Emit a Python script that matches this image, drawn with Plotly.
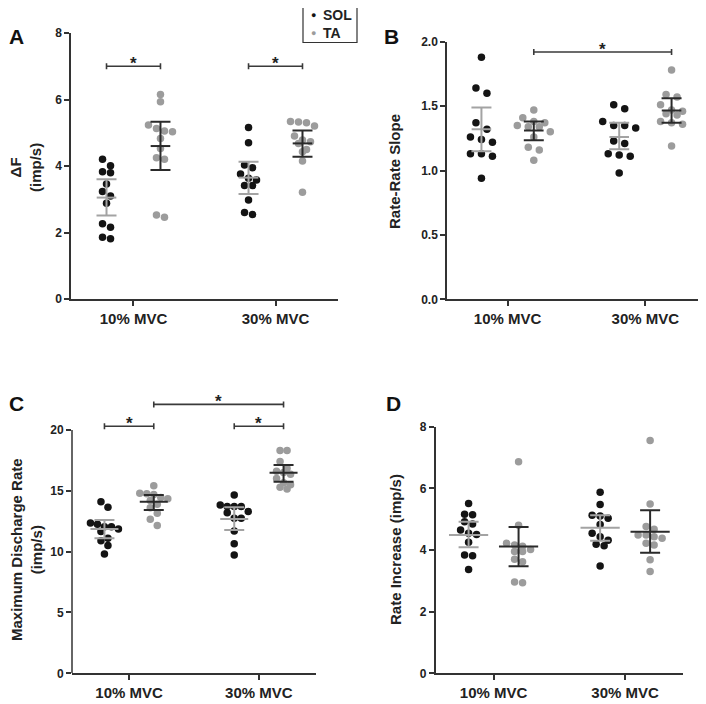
import plotly.graph_objects as go

CATS = ["10% MVC", "30% MVC"]

# --- Panel A: delta F (imp/s) ---
dF_sol_10 = [4.20, 4.01, 3.83, 3.80, 3.46, 3.23, 3.10, 2.88, 2.26, 2.16, 1.86, 1.81]
dF_ta_10 = [6.15, 5.93, 5.23, 5.13, 5.05, 5.03, 4.83, 4.53, 4.25, 4.20, 2.53, 2.46]
dF_sol_30 = [5.16, 4.70, 4.03, 3.95, 3.76, 3.63, 3.58, 3.41, 3.41, 2.98, 2.60, 2.54]
dF_ta_30 = [5.34, 5.32, 5.30, 5.20, 4.90, 4.78, 4.73, 4.68, 4.50, 4.43, 4.15, 3.21]
dF_mean = [3.05, 4.60, 3.65, 4.68]
dF_lo = [2.51, 3.88, 3.16, 4.28]
dF_hi = [3.60, 5.33, 4.13, 5.07]
dF_sig = [(0, 1, 7.0), (2, 3, 7.0)]

# --- Panel B: rate-rate slope ---
rr_sol_10 = [1.88, 1.64, 1.60, 1.37, 1.32, 1.26, 1.24, 1.22, 1.13, 1.13, 1.11, 0.94]
rr_ta_10 = [1.47, 1.41, 1.38, 1.37, 1.35, 1.34, 1.34, 1.30, 1.26, 1.18, 1.16, 1.08]
rr_sol_30 = [1.51, 1.48, 1.38, 1.35, 1.35, 1.33, 1.23, 1.21, 1.13, 1.12, 1.11, 0.98]
rr_ta_30 = [1.78, 1.59, 1.57, 1.51, 1.47, 1.46, 1.44, 1.43, 1.38, 1.37, 1.36, 1.19]
rr_mean = [1.32, 1.31, 1.26, 1.465]
rr_lo = [1.15, 1.235, 1.165, 1.37]
rr_hi = [1.49, 1.38, 1.37, 1.56]
rr_sig = [(1, 3, 1.92)]

# --- Panel C: maximum discharge rate (imp/s) ---
mdr_sol_10 = [14.1, 13.65, 12.35, 12.25, 12.05, 12.05, 11.85, 11.65, 11.1, 10.9, 10.5, 9.8]
mdr_ta_10 = [15.42, 14.8, 14.75, 14.7, 14.45, 14.35, 14.2, 13.9, 13.6, 13.15, 12.65, 12.15]
mdr_sol_30 = [14.66, 13.84, 13.7, 13.7, 13.7, 13.3, 13.2, 12.74, 12.74, 11.7, 10.65, 9.73]
mdr_ta_30 = [18.3, 18.3, 17.4, 16.85, 16.6, 16.5, 16.35, 16.0, 15.65, 15.5, 15.3, 15.15]
mdr_mean = [11.85, 14.1, 12.68, 16.49]
mdr_lo = [11.1, 13.42, 11.78, 15.75]
mdr_hi = [12.6, 14.65, 13.64, 17.12]
mdr_sig = [(0, 1, 20.3), (2, 3, 20.3), (1, 3, 22.1)]

# --- Panel D: rate increase (imp/s) ---
ri_sol_10 = [5.51, 5.16, 5.14, 4.92, 4.84, 4.65, 4.54, 4.50, 4.25, 3.84, 3.81, 3.37]
ri_ta_10 = [6.86, 4.80, 4.22, 4.16, 4.12, 4.02, 3.95, 3.95, 3.70, 3.62, 2.96, 2.94]
ri_sol_30 = [5.87, 5.48, 5.13, 5.10, 5.03, 4.83, 4.54, 4.43, 4.32, 4.19, 4.14, 3.48]
ri_ta_30 = [7.55, 5.49, 4.76, 4.67, 4.49, 4.49, 4.43, 4.38, 4.22, 4.16, 3.68, 3.30]
ri_mean = [4.49, 4.11, 4.72, 4.59]
ri_lo = [4.09, 3.47, 4.30, 3.91]
ri_hi = [4.92, 4.75, 5.13, 5.29]
ri_sig = []

FONT = "Liberation Sans, Arial, sans-serif"
AX = "#333333"
DOT = {"SOL": "#141414", "TA": "#9c9c9c"}
BAR = {"SOL": "#a3a3a3", "TA": "#2a2a2a"}
G = 0.19  # half distance between SOL and TA columns
XR = [-0.44, 1.44]

# the page body has an 8px margin, so the figure is made smaller and shifted
PAD = 8
W, H = 706 - PAD, 704 - PAD


def px(x):
    return (x - PAD) / W


def py(y):
    return 1 - (y - PAD) / H


def swarm(vals, ypx, step, row_px=7):
    """Prism-like column scatter: group close values into rows, spread rows symmetrically (px)."""
    order = sorted(range(len(vals)), key=lambda i: -vals[i])
    rows = []
    for i in order:
        if rows and (vals[rows[-1][0]] - vals[i]) * ypx < row_px:
            rows[-1].append(i)
        else:
            rows.append([i])
    off = [0.0] * len(vals)
    for row in rows:
        n = len(row)
        for k, i in enumerate(row):
            off[i] = (k - (n - 1) / 2) * step
    return off


# pixel boxes (left, right, top, bottom) and y range / ticks per panel
panels = [
    dict(n="", box=(71, 338, 33, 299), yr=[0, 8], yline=None, tv=[0, 2, 4, 6, 8], fmt="",
         groups=[dF_sol_10, dF_ta_10, dF_sol_30, dF_ta_30], mean=dF_mean, lo=dF_lo, hi=dF_hi,
         sig=dF_sig, mw=14, step=8),
    dict(n="2", box=(447, 706, 41.7, 299.3), yr=[0, 2], yline=None, tv=[0, 0.5, 1, 1.5, 2], fmt=".1f",
         groups=[rr_sol_10, rr_ta_10, rr_sol_30, rr_ta_30], mean=rr_mean, lo=rr_lo, hi=rr_hi,
         sig=rr_sig, mw=14, step=11),
    dict(n="3", box=(72, 316, 398.3, 673.3), yr=[0, 22.6], yline=20, tv=[0, 5, 10, 15, 20], fmt="",
         groups=[mdr_sol_10, mdr_ta_10, mdr_sol_30, mdr_ta_30], mean=mdr_mean, lo=mdr_lo, hi=mdr_hi,
         sig=mdr_sig, mw=20, step=7),
    dict(n="4", box=(435.7, 683, 426.7, 673.3), yr=[0, 8], yline=None, tv=[0, 2, 4, 6, 8], fmt="",
         groups=[ri_sol_10, ri_ta_10, ri_sol_30, ri_ta_30], mean=ri_mean, lo=ri_lo, hi=ri_hi,
         sig=ri_sig, mw=28, step=8),
]

centers = [0 - G, 0 + G, 1 - G, 1 + G]
kinds = ["SOL", "TA", "SOL", "TA"]

fig = go.Figure()
shapes = []
annos = []

for p in panels:
    l, r, t, b = p["box"]
    xa, ya = "x" + p["n"], "y" + p["n"]
    xpx = (r - l) / (XR[1] - XR[0])
    ypx = (b - t) / (p["yr"][1] - p["yr"][0])

    # individual dots
    for vals, cx, k in zip(p["groups"], centers, kinds):
        off = swarm(vals, ypx, p["step"])
        fig.add_trace(go.Scatter(
            x=[cx + o / xpx for o in off], y=vals, mode="markers", xaxis=xa, yaxis=ya,
            marker=dict(size=7.5, color=DOT[k]), showlegend=False, hoverinfo="y"))

    # mean +/- CI
    for i, (cx, k) in enumerate(zip(centers, kinds)):
        m = p["mean"][i]
        fig.add_trace(go.Scatter(
            x=[cx], y=[m], mode="markers", xaxis=xa, yaxis=ya, showlegend=False,
            marker=dict(symbol="line-ew", size=p["mw"], line=dict(width=2, color=BAR[k])),
            error_y=dict(type="data", symmetric=False, array=[p["hi"][i] - m],
                         arrayminus=[m - p["lo"][i]], color=BAR[k], thickness=2, width=10)))

    # significance brackets
    cap = 3 / ypx
    for g0, g1, yv in p["sig"]:
        x0, x1 = centers[g0], centers[g1]
        fig.add_trace(go.Scatter(
            x=[x0, x0, None, x0, x1, None, x1, x1], y=[yv - cap, yv + cap, None, yv, yv, None, yv - cap, yv + cap],
            mode="lines", xaxis=xa, yaxis=ya, line=dict(color="#3a3a3a", width=1.6),
            showlegend=False, hoverinfo="skip"))
        annos.append(dict(x=(x0 + x1) / 2, y=yv, xref=xa, yref=ya, text="<b>*</b>", showarrow=False,
                          xanchor="center", yanchor="bottom", yshift=-9,
                          font=dict(size=17, color="#222", family=FONT)))

    axis_common = dict(showgrid=False, zeroline=False, ticks="outside", ticklen=5, tickwidth=1.5,
                       tickcolor=AX, linecolor=AX, linewidth=1.5, automargin=False,
                       tickfont=dict(family=FONT, size=12, color="#222", weight="bold"))
    fig.layout["xaxis" + p["n"]] = dict(
        axis_common, domain=[px(l), min(px(r), 1)], range=XR, anchor=ya, showline=True,
        tickvals=[0, 1], ticktext=CATS, tickfont=dict(family=FONT, size=15, color="#222", weight="bold"))
    fig.layout["yaxis" + p["n"]] = dict(
        axis_common, domain=[py(b), py(t)], range=p["yr"], anchor=xa,
        showline=p["yline"] is None, tickvals=p["tv"], tickformat=p["fmt"])
    if p["yline"] is not None:
        shapes.append(dict(type="line", xref=xa + " domain", x0=0, x1=0, yref=ya, y0=0, y1=p["yline"],
                           line=dict(color=AX, width=1.5)))

# legend box drawn by hand (Plotly's own legend is too wide here)
shapes.append(dict(type="rect", xref="paper", yref="paper", x0=px(303), x1=px(357), y0=py(42.5), y1=py(-3),
                   line=dict(color=AX, width=1.2), fillcolor="white"))
for k, yy in [("SOL", 15), ("TA", 33)]:
    annos.append(dict(x=px(313), y=py(yy), xref="paper", yref="paper", text="●", showarrow=False,
                      xanchor="center", yanchor="middle", font=dict(size=9, color=DOT[k], family=FONT)))
    annos.append(dict(x=px(321), y=py(yy), xref="paper", yref="paper", text="<b>%s</b>" % k,
                      showarrow=False, xanchor="left", yanchor="middle",
                      font=dict(size=14, color="#222", family=FONT)))

# panel letters and y titles (pixel positions in the picture)
labels = [("A", 16, 37), ("B", 391, 37), ("C", 16, 403), ("D", 393, 403)]
for txt, x, y in labels:
    annos.append(dict(x=px(x), y=py(y), xref="paper", yref="paper", text="<b>%s</b>" % txt,
                      showarrow=False, xanchor="center", yanchor="middle",
                      font=dict(size=21, family=FONT, color="#111")))

ytitles = [("<b>ΔF<br>(imp/s)</b>", 26, 168), ("<b>Rate-Rate Slope</b>", 394, 172),
           ("<b>Maximum Discharge Rate<br>(imp/s)</b>", 26, 550), ("<b>Rate Increase (imp/s)</b>", 395, 550)]
for txt, x, y in ytitles:
    annos.append(dict(x=px(x), y=py(y), xref="paper", yref="paper", text=txt, textangle=-90,
                      showarrow=False, xanchor="center", yanchor="middle",
                      font=dict(size=15, family=FONT, color="#222")))

fig.update_layout(
    width=W, height=H, margin=dict(l=0, r=0, t=0, b=0, autoexpand=False),
    paper_bgcolor="white", plot_bgcolor="white", showlegend=False,
    shapes=shapes, annotations=annos,
)

fig.write_html("out.html")
